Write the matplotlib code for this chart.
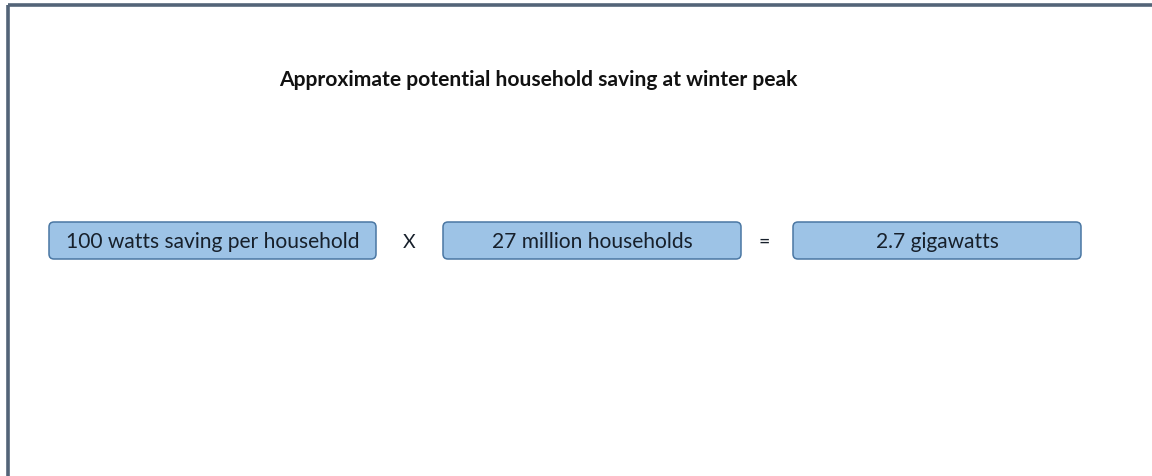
import matplotlib
matplotlib.use('Agg')
import matplotlib.pyplot as plt
from matplotlib.patches import FancyBboxPatch

TITLE = 'Approximate potential household saving at winter peak'
terms = ['100 watts saving per household', '27 million households', '2.7 gigawatts']
operators = ['X', '=']

# box layout in pixels: left, right
box_x = [(49, 376), (443, 741), (793, 1081)]
op_x = [409, 764]
box_top, box_bottom = 223, 260

plt.rcParams['font.family'] = ['Lato', 'DejaVu Sans']

fig = plt.figure(figsize=(11.52, 4.77), dpi=100)
ax = fig.add_axes([0, 0, 1, 1])
ax.set_xlim(0, 1152)
ax.set_ylim(477, 0)
ax.axis('off')

# slide frame, open on the right and bottom
ax.plot([8, 8], [477, 6], color='#536478', lw=2.6, solid_capstyle='butt')
ax.plot([8, 1152], [6, 6], color='#536478', lw=2.6, solid_capstyle='butt')

ax.text(538, 80, TITLE, ha='center', va='center', fontsize=15.1,
        fontweight='bold', color='#111111')

for (x0, x1), label in zip(box_x, terms):
    box = FancyBboxPatch((x0, box_top), x1 - x0, box_bottom - box_top,
                         boxstyle='round,pad=0,rounding_size=5',
                         facecolor='#9dc3e6', edgecolor='#4a77a3', lw=1.1)
    ax.add_patch(box)
    ax.text((x0 + x1) / 2, (box_top + box_bottom) / 2 + 1, label,
            ha='center', va='center', fontsize=15.1, color='#17202b')

for x, op in zip(op_x, operators):
    ax.text(x, (box_top + box_bottom) / 2 + 1, op, ha='center', va='center',
            fontsize=14, color='#17202b')

fig.savefig('out.png', dpi=100)
